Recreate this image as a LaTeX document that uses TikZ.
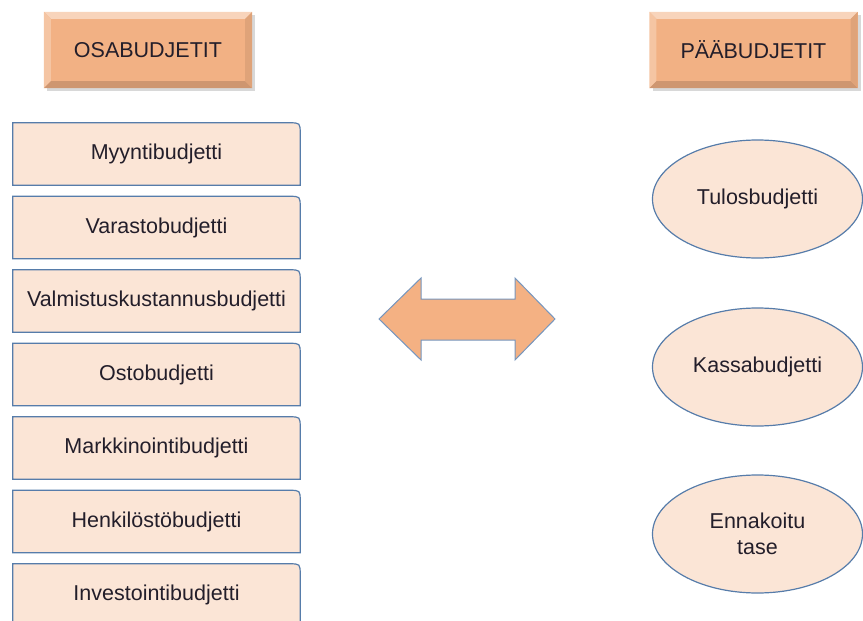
\documentclass[tikz,border=0pt]{standalone}
\usepackage{fontspec}
\setmainfont{Liberation Sans}
\usetikzlibrary{shapes.geometric,backgrounds}

\definecolor{peach}{RGB}{251,229,214}
\definecolor{headorange}{RGB}{242,177,132}
\definecolor{arroworange}{RGB}{244,177,131}
\definecolor{edgeblue}{RGB}{86,124,170}
\definecolor{arrowblue}{RGB}{118,150,190}
\definecolor{inkdark}{RGB}{35,30,42}

\tikzset{
  budget/.style={minimum width=287pt, minimum height=62pt, inner sep=0pt,
    text=inkdark, font=\fontsize{21.5}{25}\selectfont},
  mainbudget/.style={ellipse, draw=edgeblue, line width=1.2pt, fill=peach,
    minimum width=210pt, minimum height=118pt, inner sep=0pt, align=center,
    text=inkdark, font=\fontsize{21.5}{26}\selectfont},
  header/.style={minimum width=208pt, minimum height=76pt, inner sep=0pt,
    fill=headorange, text=inkdark, font=\fontsize{21.5}{25}\selectfont},
}

\begin{document}
\begin{tikzpicture}[x=1pt,y=-1pt]
\useasboundingbox (0,0) rectangle (863,621);

% headers with shadow and bevel
\foreach \name/\cx/\txt in {osa/148/OSABUDJETIT, paa/753.5/PÄÄBUDJETIT}{
  \fill[black!30, opacity=0.5] (\cx-101,15) rectangle (\cx+107,91);
  \node[header] (\name) at (\cx,50) {\txt};
  \fill[headorange!55!white] (\name.north west) -- (\name.north east)
    -- ([shift={(-7,7)}]\name.north east) -- ([shift={(7,7)}]\name.north west) -- cycle;
  \fill[headorange!75!white] (\name.north west) -- (\name.south west)
    -- ([shift={(7,-7)}]\name.south west) -- ([shift={(7,7)}]\name.north west) -- cycle;
  \fill[headorange!85!black] (\name.south west) -- (\name.south east)
    -- ([shift={(-7,-7)}]\name.south east) -- ([shift={(7,-7)}]\name.south west) -- cycle;
  \fill[headorange!92!black] (\name.north east) -- (\name.south east)
    -- ([shift={(-7,-7)}]\name.south east) -- ([shift={(-7,7)}]\name.north east) -- cycle;
}

% partial budgets, one rounded corner each
\foreach \txt [count=\i] in {Myyntibudjetti, Varastobudjetti, Valmistuskustannusbudjetti,
    Ostobudjetti, Markkinointibudjetti, Henkilöstöbudjetti, Investointibudjetti}{
  \node[budget] (b\i) at (156.5,{154+73.5*(\i-1)}) {\txt};
  \begin{pgfonlayer}{background}
    \filldraw[fill=peach, draw=edgeblue, line width=1.2pt] (b\i.south west) -- (b\i.north west)
      -- ([xshift=-11pt]b\i.north east) .. controls (b\i.north east) .. ([yshift=-11pt]b\i.north east)
      -- (b\i.south east) -- cycle;
  \end{pgfonlayer}
}

% double arrow in the middle
\filldraw[fill=arroworange, draw=arrowblue, line width=1pt]
  (379,319) -- (421,278) -- (421,299) -- (515,299) -- (515,278) -- (555,319)
  -- (515,360) -- (515,340) -- (421,340) -- (421,360) -- cycle;

% main budgets
\node[mainbudget] (tulos) at (757.5,199) {Tulosbudjetti};
\node[mainbudget] (kassa) at (757.5,367) {Kassabudjetti};
\node[mainbudget] (tase) at (757.5,534) {Ennakoitu\\tase};
\end{tikzpicture}
\end{document}
